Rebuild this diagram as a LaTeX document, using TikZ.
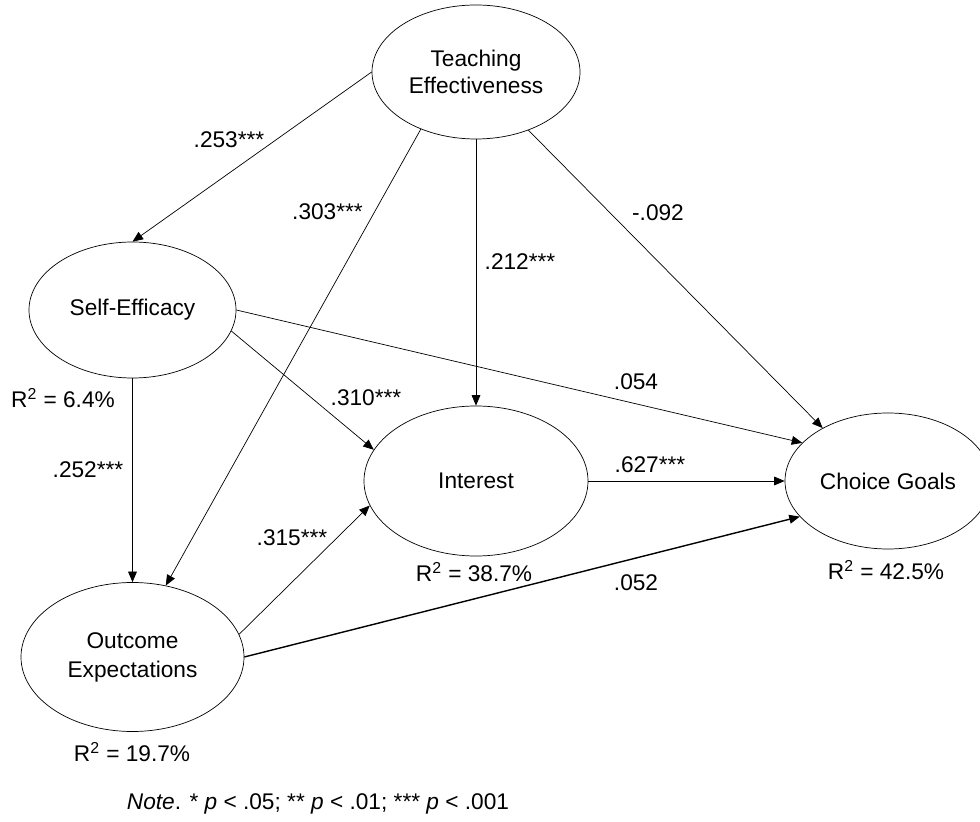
\documentclass[tikz,border=0pt]{standalone}
\usepackage{fontspec}
\setmainfont{Liberation Sans}
\usetikzlibrary{arrows.meta,shapes.geometric}

\begin{document}
\begin{tikzpicture}[
  font=\fontsize{12.9}{15}\selectfont,
  every node/.style={align=center},
  latent/.style={ellipse, draw=black, thin, inner sep=0pt},
  arrow/.style={-{Triangle[length=6pt,width=5pt]}, thin},
  coef/.style={inner sep=1pt},
]
\useasboundingbox (0,0) rectangle (19.6,16.42);

\node[latent, minimum width=4.16cm, minimum height=2.68cm] (te)  at (9.52,14.98) {Teaching\\Effectiveness};
\node[latent, minimum width=4.14cm, minimum height=2.72cm] (se)  at (2.65,10.22) {Self-Efficacy};
\node[latent, minimum width=4.46cm, minimum height=2.98cm,
      font=\fontsize{12.9}{16.5}\selectfont]                (oe)  at (2.65,3.28)  {Outcome\\Expectations};
\node[latent, minimum width=4.48cm, minimum height=3.0cm]  (int) at (9.52,6.80)  {Interest};
\node[latent, minimum width=4.12cm, minimum height=2.72cm] (cg)  at (17.76,6.80) {Choice Goals};

\draw[arrow] (te.west) -- (se.north);
\draw[arrow] (te.226) -- (oe.65);
\draw[arrow] (te.south) -- (int.north);
\draw[arrow] (te.-48) -- (cg.141);
\draw[arrow] (se.south) -- (oe.north);
\draw[arrow] (se.-12) -- (int.163);
\draw[arrow] (se.east) -- (cg.156);
\draw[arrow] (oe.12) -- (int.193);
\draw[arrow, line width=0.8pt] (oe.east) -- (cg.202);
\draw[arrow] (int.east) -- (cg.west);

\node[coef] (c1)  at (4.58,13.62) {.253***};
\node[coef] (c2)  at (6.55,12.18) {.303***};
\node[coef] (c3)  at (10.40,11.18) {.212***};
\node[coef] (c4)  at (13.16,12.16) {-.092};
\node[coef] (c5)  at (12.72,8.78) {.054};
\node[coef] (c6)  at (7.32,8.46) {.310***};
\node[coef] (c7)  at (13.0,7.12) {.627***};
\node[coef] (c8)  at (1.76,7.02) {.252***};
\node[coef] (c9)  at (5.84,5.66) {.315***};
\node[coef] (c10) at (12.72,4.76) {.052};

\node[coef] (r1) at (1.26,8.46)  {R\textsuperscript{2} = 6.4\%};
\node[coef] (r2) at (9.48,4.98)  {R\textsuperscript{2} = 38.7\%};
\node[coef] (r3) at (17.72,5.02) {R\textsuperscript{2} = 42.5\%};
\node[coef] (r4) at (2.64,1.38)  {R\textsuperscript{2} = 19.7\%};

\node[coef] (note) at (6.36,0.34)
  {\textit{Note}. * \textit{p} < .05; ** \textit{p} < .01; *** \textit{p} < .001};

\end{tikzpicture}
\end{document}
